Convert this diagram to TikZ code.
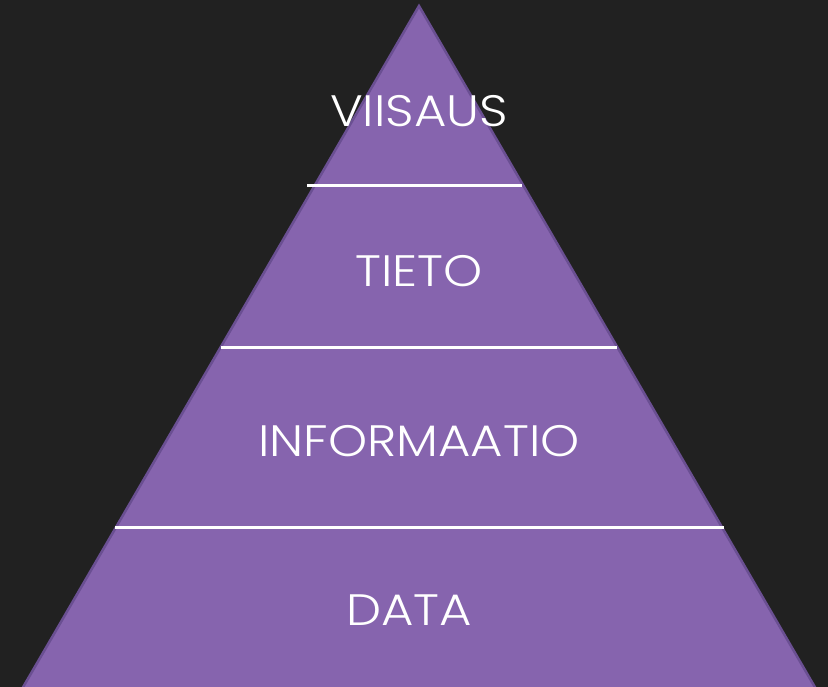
\documentclass[tikz,border=0pt]{standalone}
\usepackage{fontspec}
\setmainfont{Poppins}[UprightFont=* Light]
\definecolor{bg}{HTML}{212121}
\definecolor{pfill}{HTML}{8664AE}
\definecolor{pedge}{HTML}{6A4F92}
\begin{document}
\begin{tikzpicture}[x=1pt,y=-1pt,
  layerline/.style={draw=white,line width=3pt},
  lbl/.style={text=white,font=\fontsize{44}{44}\selectfont,anchor=base,inner sep=0pt,xscale=1.13}]
\fill[bg] (0,0) rectangle (828,687);
\useasboundingbox (0,0) rectangle (828,687);
\coordinate (apex) at (419,6);
\coordinate (bl) at (22,689);
\coordinate (br) at (816,689);
\filldraw[fill=pfill,draw=pedge,line width=2.5pt,line join=miter] (bl) -- (apex) -- (br) -- cycle;
\coordinate (l1a) at (307,186); \coordinate (l1b) at (522,186);
\coordinate (l2a) at (221,347); \coordinate (l2b) at (617,347);
\coordinate (l3a) at (115,527); \coordinate (l3b) at (724,527);
\draw[layerline] (l1a) -- (l1b);
\draw[layerline] (l2a) -- (l2b);
\draw[layerline] (l3a) -- (l3b);
\node[lbl] (viisaus) at (419,127) {VIISAUS};
\node[lbl] (tieto) at (419,287) {TIETO};
\node[lbl] (info) at (419,456) {INFORMAATIO};
\node[lbl] (data) at (409,625) {DATA};
\end{tikzpicture}
\end{document}
